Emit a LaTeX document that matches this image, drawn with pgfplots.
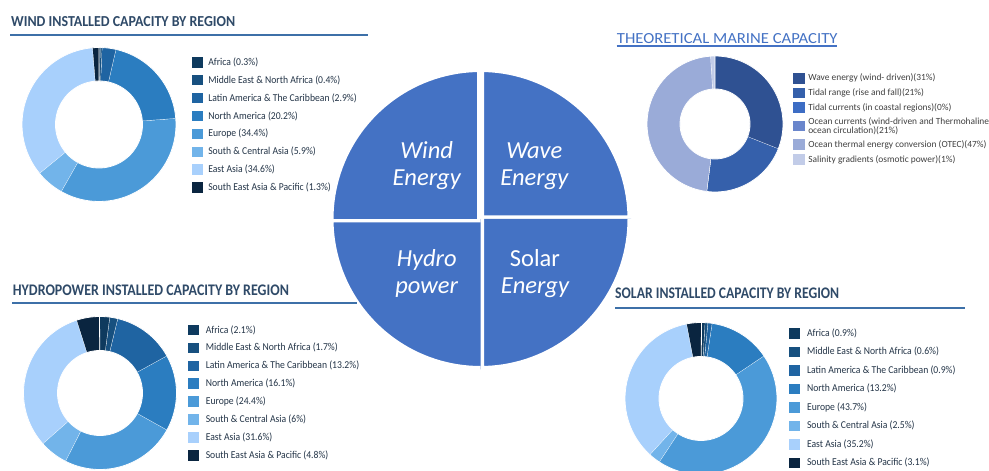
\documentclass[border=0pt]{standalone}
\usepackage{fontspec}
\setmainfont{Carlito}
\newfontfamily\legfont{Carlito}[FakeStretch=0.92]
\usepackage{graphicx}
\usepackage{pgfplots}
\usepackage{pgfplotstable}
\pgfplotsset{compat=1.18}

\definecolor{cA}{HTML}{0E3A5E}
\definecolor{cB}{HTML}{17507F}
\definecolor{cC}{HTML}{1F64A2}
\definecolor{cD}{HTML}{2B7DC0}
\definecolor{cE}{HTML}{4B9AD8}
\definecolor{cF}{HTML}{72B4EA}
\definecolor{cG}{HTML}{A8D0FC}
\definecolor{cH}{HTML}{0A2540}
\definecolor{mA}{HTML}{2F5192}
\definecolor{mB}{HTML}{3560AB}
\definecolor{mC}{HTML}{3D6DC4}
\definecolor{mD}{HTML}{6A86CC}
\definecolor{mE}{HTML}{9AABD8}
\definecolor{mF}{HTML}{C2CCE8}
\definecolor{circ}{HTML}{4472C4}
\definecolor{titcol}{HTML}{2F4A68}
\definecolor{ulcol}{HTML}{3D70A8}
\definecolor{legtext}{HTML}{233447}
\definecolor{mtext}{HTML}{3F3F3F}

\def\mlbr{\\}

% shares in percent, clockwise from 12 o'clock
\pgfplotstableread[col sep=comma]{
label,value,col
Africa (0.3\%),0.3,cA
Middle East \& North Africa (0.4\%),0.4,cB
Latin America \& The Caribbean (2.9\%),2.9,cC
North America (20.2\%),20.2,cD
Europe (34.4\%),34.4,cE
South \& Central Asia (5.9\%),5.9,cF
East Asia (34.6\%),34.6,cG
South East Asia \& Pacific (1.3\%),1.3,cH
}\windtable

\pgfplotstableread[col sep=comma]{
label,value,col
Africa (2.1\%),2.1,cA
Middle East \& North Africa (1.7\%),1.7,cB
Latin America \& The Caribbean (13.2\%),13.2,cC
North America (16.1\%),16.1,cD
Europe (24.4\%),24.4,cE
South \& Central Asia (6\%),6,cF
East Asia (31.6\%),31.6,cG
South East Asia \& Pacific (4.8\%),4.8,cH
}\hydrotable

\pgfplotstableread[col sep=comma]{
label,value,col
Africa (0.9\%),0.9,cA
Middle East \& North Africa (0.6\%),0.6,cB
Latin America \& The Caribbean (0.9\%),0.9,cC
North America (13.2\%),13.2,cD
Europe (43.7\%),43.7,cE
South \& Central Asia (2.5\%),2.5,cF
East Asia (35.2\%),35.2,cG
South East Asia \& Pacific (3.1\%),3.1,cH
}\solartable

% drawn ring shows no ocean-currents segment (value 0), legend text keeps 21%
\pgfplotstableread[col sep=comma]{
label,value,col
Wave energy (wind- driven)(31\%),31,mA
Tidal range (rise and  fall)(21\%),21,mB
Tidal currents (in coastal regions)(0\%),0,mC
Ocean currents (wind-driven and Thermohaline\mlbr ocean circulation)(21\%),0,mD
Ocean thermal energy conversion (OTEC)(47\%),47,mE
Salinity gradients (osmotic power)(1\%),1,mF
}\marinetable

\pgfplotstableread[col sep=comma]{
label,value,col
Wave Energy,25,circ
Solar Energy,25,circ
Hydro power,25,circ
Wind Energy,25,circ
}\circtable

\newif\ifdonutlegend
\def\slicelw{0.8pt}
% #1 table, #2 cx, #3 cy, #4 outer radius, #5 inner radius
\newcommand\donut[5]{%
  \pgfplotstablegetrowsof{#1}%
  \pgfmathtruncatemacro\nrows{\pgfplotsretval-1}%
  \def\cum{0}%
  \pgfplotsforeachungrouped \i in {0,...,\nrows}{%
    \pgfplotstablegetelem{\i}{value}\of{#1}\let\val\pgfplotsretval
    \pgfplotstablegetelem{\i}{col}\of{#1}\let\col\pgfplotsretval
    \pgfplotstablegetelem{\i}{label}\of{#1}\let\lab\pgfplotsretval
    \pgfmathsetmacro\aS{90-3.6*\cum}%
    \pgfmathsetmacro\aE{90-3.6*(\cum+\val)}%
    \pgfmathsetmacro\cum{\cum+\val}%
    \edef\doplot{%
      \noexpand\addplot[fill=\col, draw=white, line width=\slicelw, domain=0:3, samples=121]
      ({#2+((x<=1)*#4+(x>1)*(x<2)*(#4-(#4-#5)*(x-1))+(x>=2)*#5)*cos((x<=1)*((\aS)+((\aE)-(\aS))*x)+(x>1)*(x<2)*(\aE)+(x>=2)*((\aE)-((\aE)-(\aS))*(x-2)))},
       {#3+((x<=1)*#4+(x>1)*(x<2)*(#4-(#4-#5)*(x-1))+(x>=2)*#5)*sin((x<=1)*((\aS)+((\aE)-(\aS))*x)+(x>1)*(x<2)*(\aE)+(x>=2)*((\aE)-((\aE)-(\aS))*(x-2)))});
      \ifdonutlegend\noexpand\addlegendentry{\unexpanded\expandafter{\lab}}\fi
    }%
    \doplot
  }%
}

\pgfplotsset{
  base/.style={at={(0pt,0pt)}, anchor=south west, x=1pt, y=1pt,
    xmin=0, xmax=989, ymin=0, ymax=471, hide axis, clip=false,
    enlargelimits=false},
  donutleg/.style n args={6}{
    legend style={at={(#1,#2)}, anchor=north west, draw=none, fill=none,
      inner sep=0pt, outer sep=0pt, row sep=#3, column sep=#4,
      font=#5, nodes={inner sep=0pt, align=left, text=#6}},
    legend cell align=left},
  sq/.style={legend image code/.code={\fill[##1,draw=none] (0pt,-5.25pt) rectangle (#1,5.25pt);}}
}

\begin{document}
\begin{tikzpicture}[x=1pt,y=1pt]
\useasboundingbox (0,0) rectangle (989,471);
\clip (0,0) rectangle (989,471);

% central circle
\begin{axis}[base]
\donutlegendfalse
\def\slicelw{7pt}
\donut{\circtable}{480.5}{252}{150.5}{0}
\end{axis}
\def\slicelw{0.8pt}

% wind
\begin{axis}[base, sq=11pt,
  donutleg={0.19383}{0.8789}{7.4pt}{5.6pt}{\legfont\fontsize{10.5}{12}\selectfont}{legtext}]
\donutlegendtrue
\donut{\windtable}{99}{346.5}{77}{43.5}
\end{axis}

% hydro
\begin{axis}[base, sq=11pt,
  donutleg={0.1904}{0.3105}{7.4pt}{6.5pt}{\legfont\fontsize{10.5}{12}\selectfont}{legtext}]
\donutlegendtrue
\donut{\hydrotable}{100}{78}{76.5}{42.5}
\end{axis}

% solar
\begin{axis}[base, sq=11pt,
  donutleg={0.7978}{0.3035}{8pt}{7pt}{\legfont\fontsize{10.5}{12}\selectfont}{legtext}]
\donutlegendtrue
\donut{\solartable}{701}{72.5}{76}{42}
\end{axis}

% marine
\begin{axis}[base, sq=11.7pt,
  donutleg={0.8021}{0.8449}{4.2pt}{3.3pt}{\fontsize{9.4}{9.7}\selectfont}{mtext}]
\donutlegendtrue
\donut{\marinetable}{715}{347}{68}{35}
\end{axis}

% titles
\node[anchor=base west, inner sep=0pt, text=titcol] at (11,444.3)
  {\resizebox{224pt}{10pt}{\bfseries WIND INSTALLED CAPACITY BY REGION}};
\draw[ulcol, line width=1.8pt] (10,436.3) -- (368,436.3);
\node[anchor=base west, inner sep=0pt, text=titcol] at (12.7,175.3)
  {\resizebox{276pt}{10.6pt}{\bfseries HYDROPOWER INSTALLED CAPACITY BY REGION}};
\draw[ulcol, line width=1.8pt] (12,167.7) -- (357,167.7);
\node[anchor=base west, inner sep=0pt, text=titcol] at (615,172)
  {\resizebox{224pt}{10.6pt}{\bfseries SOLAR INSTALLED CAPACITY BY REGION}};
\draw[ulcol, line width=1.8pt] (615,162.7) -- (965,162.7);
\node[anchor=base west, inner sep=0pt, text=circ] at (616.7,427.7)
  {\resizebox{220.6pt}{10pt}{THEORETICAL MARINE CAPACITY}};
\draw[circ, line width=1.2pt] (616.7,425) -- (837.3,425);

% quadrant labels
\begin{scope}[every node/.style={anchor=base, inner sep=0pt, text=white,
    font=\fontsize{24.5}{28}\selectfont\itshape}]
\node at (426.7,312.7) {Wind};
\node at (426.7,285) {Energy};
\node at (534.3,312.7) {Wave};
\node at (534.3,285) {Energy};
\node at (426.7,204.5) {Hydro};
\node at (426.7,177.5) {power};
\node[font=\fontsize{24.5}{28}\selectfont\upshape] at (535,204.5) {Solar};
\node at (535,177.5) {Energy};
\end{scope}
\end{tikzpicture}
\end{document}
